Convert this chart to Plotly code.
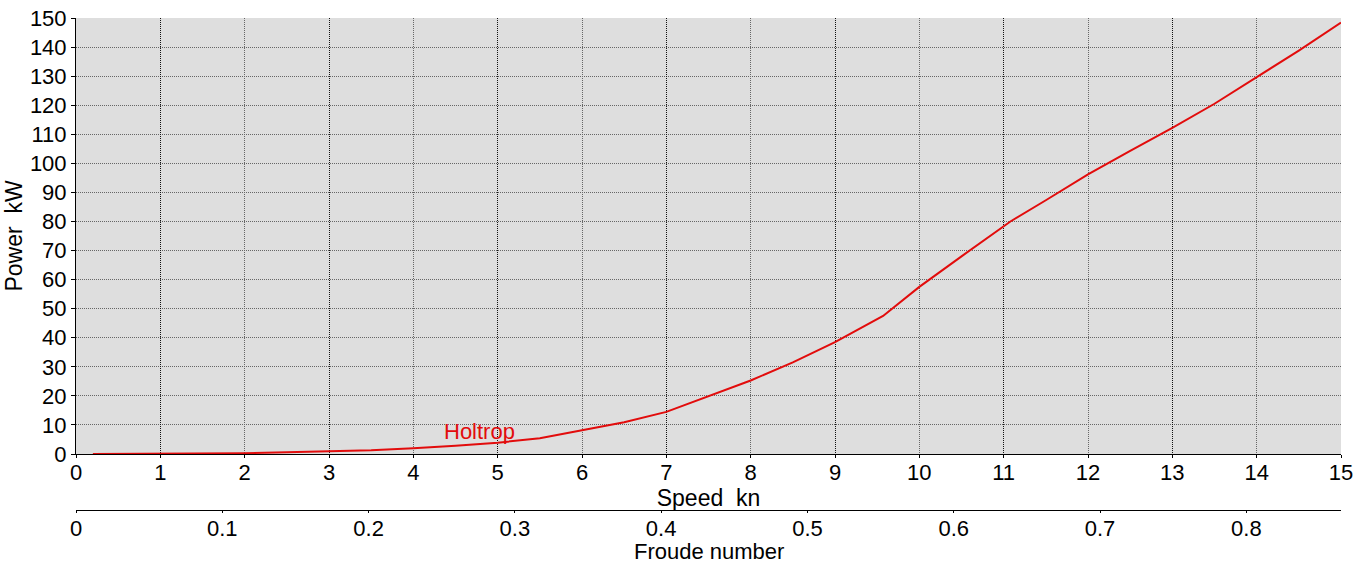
import plotly.graph_objects as go

# ---- data ----
speed_kn = [0.2, 0.5, 1.0, 1.5, 2.0, 2.5, 3.0, 3.5, 4.0, 4.5, 5.0, 5.5, 6.0, 6.5,
            7.0, 7.5, 8.0, 8.5, 9.0, 9.57, 10.0, 10.5, 11.08, 11.5, 12.0, 12.5,
            13.0, 13.5, 14.0, 14.5, 15.0]
power_kw = [0.0, 0.01, 0.03, 0.1, 0.3, 0.6, 0.9, 1.3, 2.0, 2.8, 3.9, 5.4, 8.2, 10.9,
            14.5, 20.0, 25.3, 31.5, 38.5, 47.5, 57.5, 68.0, 80.0, 87.3, 96.2, 104.3,
            112.2, 120.5, 129.6, 138.8, 148.4]
series_name = "Holtrop"
label_pos = (4.79, 7.9)

speed_range = [0, 15]
power_range = [0, 150]
froude_range = [0, 0.8647]
speed_ticks = list(range(0, 16))
odd_speed_ticks = list(range(1, 15, 2))
froude_ticks = [0, 0.1, 0.2, 0.3, 0.4, 0.5, 0.6, 0.7, 0.8]
froude_labels = ["0", "0.1", "0.2", "0.3", "0.4", "0.5", "0.6", "0.7", "0.8"]
power_ticks = list(range(0, 151, 10))

FONT = "Liberation Sans, Arial, sans-serif"
RED = "rgb(226,12,12)"
W, H = 1370, 562
top, bottom_plot, froude_y = 18, 454, 510
left, right = 76, 1341
froude_title_top = 538

fig = go.Figure()
fig.add_trace(go.Scatter(x=speed_kn, y=power_kw, mode="lines", name=series_name,
                         line=dict(color=RED, width=2), showlegend=False,
                         xaxis="x", yaxis="y"))
# invisible traces so that the overlay axes exist
fig.add_trace(go.Scatter(x=froude_range, y=[None, None], mode="lines",
                         xaxis="x2", yaxis="y", showlegend=False, hoverinfo="skip"))
fig.add_trace(go.Scatter(x=speed_range, y=[None, None], mode="lines",
                         xaxis="x3", yaxis="y", showlegend=False, hoverinfo="skip"))

paper_h = froude_y - top
ydom0 = (froude_y - bottom_plot) / paper_h

tickfont = dict(family=FONT, size=22, color="black")
titlefont = dict(family=FONT, size=23, color="black")
GRID = "#666666"

fig.update_layout(
    width=W, height=H,
    margin=dict(l=left, r=W - right, t=top, b=H - froude_y, pad=0, autoexpand=False),
    paper_bgcolor="white",
    plot_bgcolor="#dedede",
    showlegend=False,
    xaxis=dict(
        range=speed_range, tickmode="array", tickvals=speed_ticks,
        anchor="y", showline=True, linecolor="black", linewidth=1,
        ticks="outside", ticklen=3, tickcolor="black", tickfont=tickfont,
        ticklabelstandoff=-4,
        showgrid=True, gridcolor=GRID, griddash="1px,1px", gridwidth=1,
        zeroline=False, automargin=False,
        title=dict(text="Speed\u00a0 kn", font=titlefont, standoff=0),
    ),
    xaxis3=dict(
        range=speed_range, overlaying="x", anchor="y", tickmode="array",
        tickvals=odd_speed_ticks, showticklabels=False, ticks="",
        showline=False, zeroline=False, automargin=False,
        showgrid=True, gridcolor="#111111", griddash="1px,1px", gridwidth=1,
    ),
    xaxis2=dict(
        range=froude_range, overlaying="x", anchor="free", position=0, side="bottom",
        tickmode="array", tickvals=froude_ticks, ticktext=froude_labels,
        showline=True, linecolor="black", linewidth=1,
        ticks="outside", ticklen=2, tickcolor="black", tickfont=tickfont,
        ticklabelstandoff=-3,
        showgrid=False, zeroline=False, automargin=False,
    ),
    yaxis=dict(
        range=power_range, domain=[ydom0, 1], tickmode="array", tickvals=power_ticks,
        showline=True, linecolor="black", linewidth=1,
        ticks="outside", ticklen=4, tickcolor="black", tickfont=tickfont,
        showgrid=True, gridcolor=GRID, griddash="1px,1px", gridwidth=1,
        zeroline=False, automargin=False,
        title=dict(text="Power\u00a0 kW", font=titlefont, standoff=0),
    ),
    annotations=[
        dict(x=label_pos[0], y=label_pos[1], xref="x", yref="y",
             text=series_name, showarrow=False,
             font=dict(family=FONT, size=22, color=RED)),
        dict(x=0.5, y=(froude_y - froude_title_top) / paper_h, xref="paper", yref="paper",
             xanchor="center", yanchor="top", text="Froude number", showarrow=False,
             borderpad=0, font=dict(family=FONT, size=22, color="black")),
    ],
)

fig.write_html("out.html")
